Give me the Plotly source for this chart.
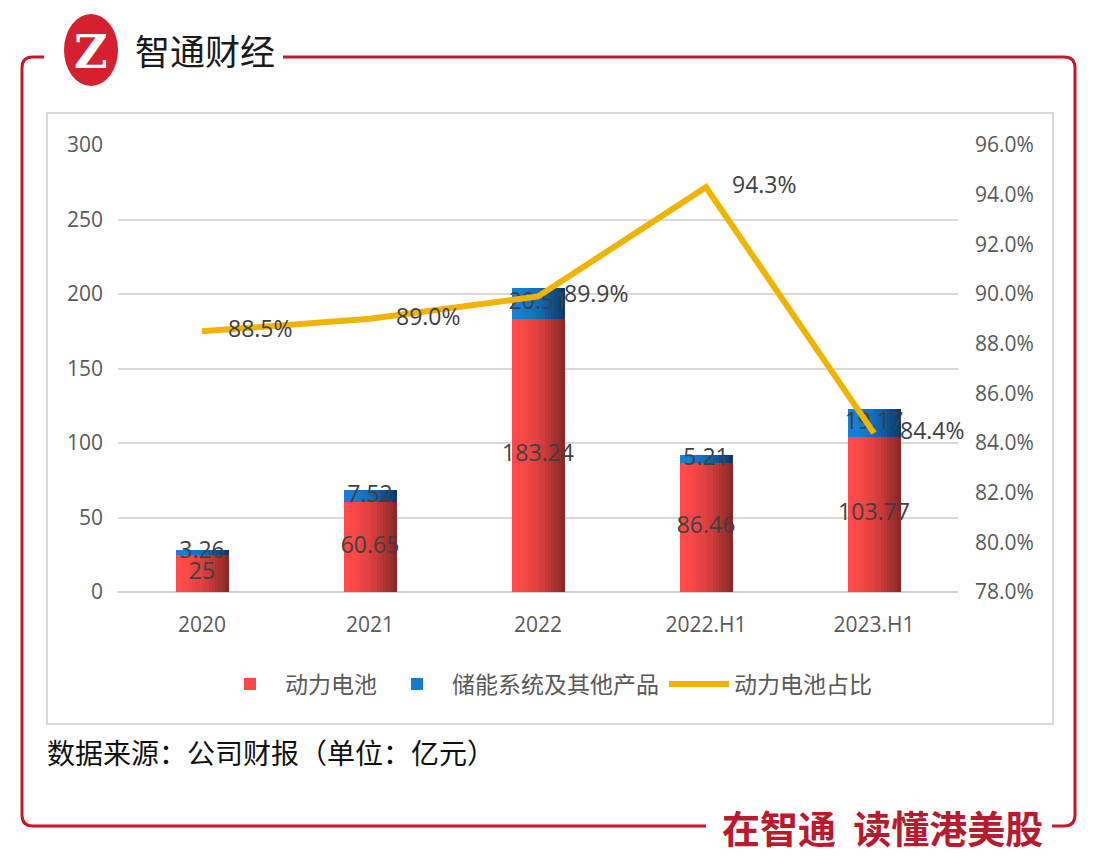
import plotly.graph_objects as go

# ---------------- data ----------------
categories = ["2020", "2021", "2022", "2022.H1", "2023.H1"]
power_battery = [25, 60.65, 183.24, 86.46, 103.77]
storage_other = [3.26, 7.52, 20.51, 5.21, 19.17]
power_share = [88.5, 89.0, 89.9, 94.3, 84.4]
share_labels = ["88.5%", "89.0%", "89.9%", "94.3%", "84.4%"]
power_labels = ["25", "60.65", "183.24", "86.46", "103.77"]
storage_labels = ["3.26", "7.52", "20.51", "5.21", "19.17"]
left_ticks = [0, 50, 100, 150, 200, 250, 300]
right_ticks = [78, 80, 82, 84, 86, 88, 90, 92, 94, 96]
right_tick_labels = ["78.0%", "80.0%", "82.0%", "84.0%", "86.0%", "88.0%",
                     "90.0%", "92.0%", "94.0%", "96.0%"]

# ---------------- geometry helpers ----------------
W, H = 1101, 868
OFF = 8  # page body margin
L, R, T, B = 118 - OFF, 958 - OFF, 145 - OFF, 592 - OFF


def px(x):
    return (x - OFF - L) / (R - L)


def py(y):
    return (B - (y - OFF)) / (B - T)


def mix(c1, c2, t):
    return "rgb(%d,%d,%d)" % tuple(round(a + (b - a) * t) for a, b in zip(c1, c2))


fig = go.Figure()

BAR_W = 0.31
N = 16
sw = BAR_W / N
red_l, red_r = (255, 74, 74), (140, 40, 40)
blue_l, blue_r = (22, 128, 214), (10, 58, 108)

for i in range(N):
    t = (i / (N - 1)) ** 1.7
    fig.add_trace(go.Bar(
        x=categories, y=power_battery, width=sw * 1.15, offset=-BAR_W / 2 + i * sw,
        marker=dict(color=mix(red_l, red_r, t), line=dict(width=0)),
        name="动力电池", legendgroup="p", showlegend=(i == 3),
        hoverinfo="skip"))
for i in range(N):
    t = (i / (N - 1)) ** 1.7
    fig.add_trace(go.Bar(
        x=categories, y=storage_other, base=power_battery, width=sw * 1.15,
        offset=-BAR_W / 2 + i * sw,
        marker=dict(color=mix(blue_l, blue_r, t), line=dict(width=0)),
        name="储能系统及其他产品", legendgroup="s", showlegend=(i == 3),
        hoverinfo="skip"))

fig.add_trace(go.Scatter(
    x=categories, y=power_share, yaxis="y2", mode="lines+markers+text",
    name="动力电池占比",
    line=dict(color="#F0B400", width=6),
    marker=dict(size=40, color="rgba(0,0,0,0)"),
    text=share_labels, textposition="middle right",
    textfont=dict(family="Open Sans", size=23, color="#404040"),
    cliponaxis=False))

fig.add_trace(go.Scatter(
    x=categories, y=[v / 2 for v in power_battery], mode="text",
    text=power_labels, showlegend=False, hoverinfo="skip",
    textfont=dict(family="Open Sans", size=23, color="#404040"), cliponaxis=False))
fig.add_trace(go.Scatter(
    x=categories, y=[p + s / 2 for p, s in zip(power_battery, storage_other)], mode="text",
    text=storage_labels, showlegend=False, hoverinfo="skip",
    textfont=dict(family="Open Sans", size=23, color="#404040"), cliponaxis=False))

red = "#C8172D"
shapes = [
    dict(type="rect", xref="paper", yref="paper", x0=px(47), x1=px(1053), y0=py(113), y1=py(724),
         line=dict(color="#D9D9D9", width=2), layer="below"),
    dict(type="path", xref="paper", yref="paper",
         path="M %f,%f L %f,%f Q %f,%f %f,%f L %f,%f Q %f,%f %f,%f L %f,%f" % (
             px(44), py(57), px(33), py(57), px(22), py(57), px(22), py(68),
             px(22), py(815), px(22), py(826), px(33), py(826), px(706), py(826)),
         line=dict(color=red, width=3)),
    dict(type="path", xref="paper", yref="paper",
         path="M %f,%f L %f,%f Q %f,%f %f,%f L %f,%f Q %f,%f %f,%f L %f,%f" % (
             px(283), py(57), px(1064), py(57), px(1075), py(57), px(1075), py(68),
             px(1075), py(815), px(1075), py(826), px(1064), py(826), px(1052), py(826)),
         line=dict(color=red, width=3)),
    dict(type="circle", xref="paper", yref="paper", x0=px(64), x1=px(118), y0=py(14), y1=py(86),
         fillcolor="#D4202F", line=dict(width=0)),
]

annotations = [
    dict(xref="paper", yref="paper", x=px(91), y=py(52), text="<b>Z</b>", showarrow=False,
         font=dict(family="DejaVu Serif", size=46, color="white"), xanchor="center", yanchor="middle"),
    dict(xref="paper", yref="paper", x=px(133), y=py(50), text="智通财经", showarrow=False,
         font=dict(family="Noto Sans CJK SC", size=35, color="#1A1A1A"), xanchor="left", yanchor="middle"),
    dict(xref="paper", yref="paper", x=px(45), y=py(752), text="数据来源：公司财报（单位：亿元）", showarrow=False,
         font=dict(family="Noto Sans CJK SC", size=28, color="#111111"), xanchor="left", yanchor="middle"),
    dict(xref="paper", yref="paper", x=px(720), y=py(826), text="<b>在智通  读懂港美股</b>", showarrow=False,
         font=dict(family="Noto Sans CJK SC", size=38, color="#B81A2E"), xanchor="left", yanchor="middle"),
]

fig.update_layout(
    width=W, height=H,
    margin=dict(l=L, r=W - R, t=T, b=H - B),
    paper_bgcolor="white", plot_bgcolor="white",
    barmode="overlay", bargap=0,
    showlegend=True,
    legend=dict(orientation="h", x=px(546), xanchor="center", y=py(684), yanchor="middle",
                font=dict(family="Noto Sans CJK SC", size=23, color="#595959"),
                itemwidth=60, traceorder="normal"),
    xaxis=dict(type="category", showgrid=False, showline=False, ticks="",
               tickfont=dict(family="Open Sans", size=21, color="#595959"),
               ticklabelstandoff=18),
    yaxis=dict(range=[0, 300], tickvals=left_ticks, showgrid=True, gridcolor="#D9D9D9", gridwidth=1.5,
               zeroline=True, zerolinecolor="#D0D0D0", zerolinewidth=2, showline=False,
               tickfont=dict(family="Open Sans", size=21, color="#595959"),
               ticklabelstandoff=14),
    yaxis2=dict(range=[78, 96], tickvals=right_ticks, ticktext=right_tick_labels,
                overlaying="y", side="right",
                showgrid=False, zeroline=False, showline=False,
                tickfont=dict(family="Open Sans", size=21, color="#595959"),
                ticklabelstandoff=16),
    shapes=shapes, annotations=annotations,
)

fig.write_html("out.html")
